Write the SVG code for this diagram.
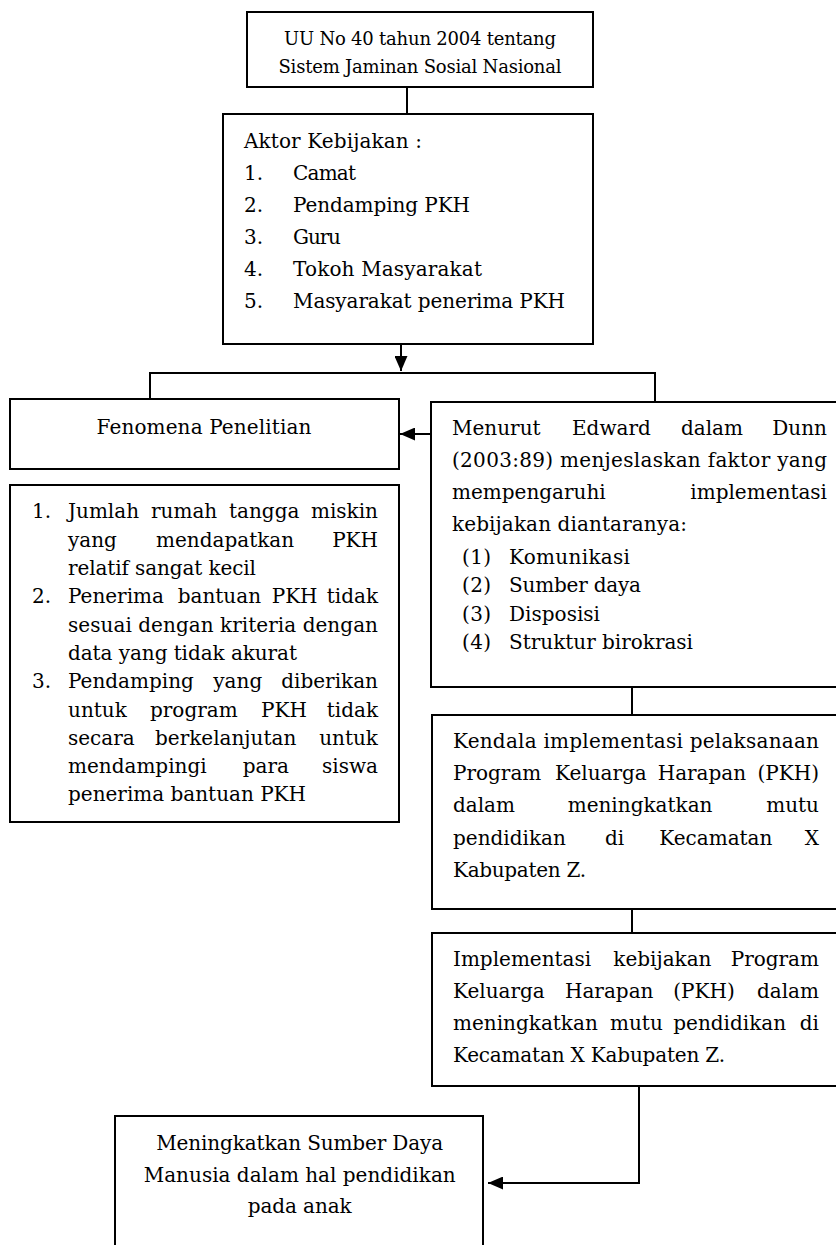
<svg xmlns="http://www.w3.org/2000/svg" width="836" height="1245" viewBox="0 0 836 1245">
<style>
.t{font-family:"DejaVu Serif","Liberation Serif",serif;font-size:20px;fill:#000}
.s{font-size:18px}
.m{text-anchor:middle}
.e{text-anchor:end}
.box{fill:#fff;stroke:#000;stroke-width:2}
.ln{fill:none;stroke:#000;stroke-width:2}
</style>
<defs>
<marker id="ah" markerUnits="userSpaceOnUse" markerWidth="15" markerHeight="13" refX="15" refY="6.5" orient="auto">
<path d="M0,0 L15,6.5 L0,13 z" fill="#000"/>
</marker>
</defs>
<rect width="836" height="1245" fill="#fff"/>

<g id="connectors">
<line class="ln" x1="407" y1="87" x2="407" y2="114"/>
<line class="ln" x1="401" y1="344" x2="401" y2="371" marker-end="url(#ah)"/>
<path class="ln" d="M150,399 V373 H655 V402"/>
<line class="ln" x1="431" y1="434" x2="400" y2="434" marker-end="url(#ah)"/>
<line class="ln" x1="632" y1="687" x2="632" y2="715"/>
<line class="ln" x1="632" y1="909" x2="632" y2="933"/>
<path class="ln" d="M639,1086 V1183 H488" marker-end="url(#ah)"/>
</g>

<g id="uu">
<rect class="box" x="247" y="12" width="346" height="75"/>
<text class="t s m" x="420" y="45" textLength="272">UU No 40 tahun 2004 tentang</text>
<text class="t s m" x="420" y="73" textLength="283">Sistem Jaminan Sosial Nasional</text>
</g>

<g id="aktor">
<rect class="box" x="223" y="114" width="370" height="230"/>
<text class="t" x="244" y="148" textLength="178">Aktor Kebijakan :</text>
<text class="t" x="244" y="180">1.</text><text class="t" x="293" y="180" textLength="63">Camat</text>
<text class="t" x="244" y="212">2.</text><text class="t" x="293" y="212" textLength="177">Pendamping PKH</text>
<text class="t" x="244" y="244">3.</text><text class="t" x="293" y="244" textLength="48">Guru</text>
<text class="t" x="244" y="276">4.</text><text class="t" x="293" y="276" textLength="189">Tokoh Masyarakat</text>
<text class="t" x="244" y="308">5.</text><text class="t" x="293" y="308" textLength="272">Masyarakat penerima PKH</text>
</g>

<g id="fenomena">
<rect class="box" x="10" y="399" width="389" height="70"/>
<text class="t m" x="204" y="434" textLength="215">Fenomena Penelitian</text>
</g>

<g id="daftar-fenomena">
<rect class="box" x="10" y="485" width="389" height="337"/>
<text class="t" x="32" y="518">1.</text>
<text class="t" y="518"><tspan x="68">Jumlah</tspan><tspan x="151">rumah</tspan><tspan x="229">tangga</tspan></text><text class="t e" x="378" y="518">miskin</text>
<text class="t" y="546.5"><tspan x="68">yang</tspan><tspan x="156">mendapatkan</tspan></text><text class="t e" x="378" y="546.5">PKH</text>
<text class="t" x="68" y="575" textLength="188">relatif sangat kecil</text>
<text class="t" x="32" y="603">2.</text>
<text class="t" y="603"><tspan x="68">Penerima</tspan><tspan x="177.7">bantuan</tspan><tspan x="271.7">PKH</tspan></text><text class="t e" x="378" y="603">tidak</text>
<text class="t" x="68" y="631.5" textLength="310">sesuai dengan kriteria dengan</text>
<text class="t" x="68" y="660" textLength="229">data yang tidak akurat</text>
<text class="t" x="32" y="688">3.</text>
<text class="t" y="688"><tspan x="68">Pendamping</tspan><tspan x="213.3">yang</tspan></text><text class="t e" x="378" y="688">diberikan</text>
<text class="t" y="716.5"><tspan x="68">untuk</tspan><tspan x="150">program</tspan><tspan x="261">PKH</tspan></text><text class="t e" x="378" y="716.5">tidak</text>
<text class="t" y="745"><tspan x="68">secara</tspan><tspan x="155">berkelanjutan</tspan></text><text class="t e" x="378" y="745">untuk</text>
<text class="t" y="773"><tspan x="68">mendampingi</tspan><tspan x="242.7">para</tspan></text><text class="t e" x="378" y="773">siswa</text>
<text class="t" x="68" y="801" textLength="238">penerima bantuan PKH</text>
</g>

<g id="edward">
<rect class="box" x="431" y="402" width="415" height="285"/>
<text class="t" y="435"><tspan x="452">Menurut</tspan><tspan x="572">Edward</tspan><tspan x="681">dalam</tspan></text><text class="t e" x="827" y="435">Dunn</text>
<text class="t" x="452" y="467" textLength="375">(2003:89) menjeslaskan faktor yang</text>
<text class="t" x="452" y="499">mempengaruhi</text><text class="t e" x="827" y="499">implementasi</text>
<text class="t" x="452" y="531" textLength="235">kebijakan diantaranya:</text>
<text class="t" x="462" y="563.5" textLength="29">(1)</text><text class="t" x="509" y="563.5" textLength="121">Komunikasi</text>
<text class="t" x="462" y="592" textLength="29">(2)</text><text class="t" x="509" y="592" textLength="132">Sumber daya</text>
<text class="t" x="462" y="620.5" textLength="29">(3)</text><text class="t" x="509" y="620.5" textLength="91">Disposisi</text>
<text class="t" x="462" y="649" textLength="29">(4)</text><text class="t" x="509" y="649" textLength="184">Struktur birokrasi</text>
</g>

<g id="kendala">
<rect class="box" x="432" y="715" width="414" height="194"/>
<text class="t" x="453" y="748" textLength="366">Kendala implementasi pelaksanaan</text>
<text class="t" y="780"><tspan x="453">Program</tspan><tspan x="555">Keluarga</tspan><tspan x="657.7">Harapan</tspan></text><text class="t e" x="819" y="780">(PKH)</text>
<text class="t" y="812"><tspan x="453">dalam</tspan><tspan x="567.7">meningkatkan</tspan></text><text class="t e" x="819" y="812">mutu</text>
<text class="t" y="845"><tspan x="453">pendidikan</tspan><tspan x="605">di</tspan><tspan x="659.3">Kecamatan</tspan></text><text class="t e" x="819" y="845">X</text>
<text class="t" x="453" y="877" textLength="133">Kabupaten Z.</text>
</g>

<g id="implementasi">
<rect class="box" x="432" y="933" width="414" height="153"/>
<text class="t" y="966"><tspan x="453">Implementasi</tspan><tspan x="613.3">kebijakan</tspan></text><text class="t e" x="819" y="966">Program</text>
<text class="t" y="998"><tspan x="453">Keluarga</tspan><tspan x="565">Harapan</tspan><tspan x="673.3">(PKH)</tspan></text><text class="t e" x="819" y="998">dalam</text>
<text class="t" y="1030"><tspan x="453">meningkatkan</tspan><tspan x="610">mutu</tspan><tspan x="673.3">pendidikan</tspan></text><text class="t e" x="819" y="1030">di</text>
<text class="t" x="453" y="1062" textLength="272">Kecamatan X Kabupaten Z.</text>
</g>

<g id="sdm">
<rect class="box" x="115" y="1116" width="368" height="140"/>
<text class="t m" x="299.7" y="1150" textLength="287">Meningkatkan Sumber Daya</text>
<text class="t m" x="299.7" y="1182" textLength="312">Manusia dalam hal pendidikan</text>
<text class="t m" x="299.7" y="1213" textLength="104">pada anak</text>
</g>
</svg>
